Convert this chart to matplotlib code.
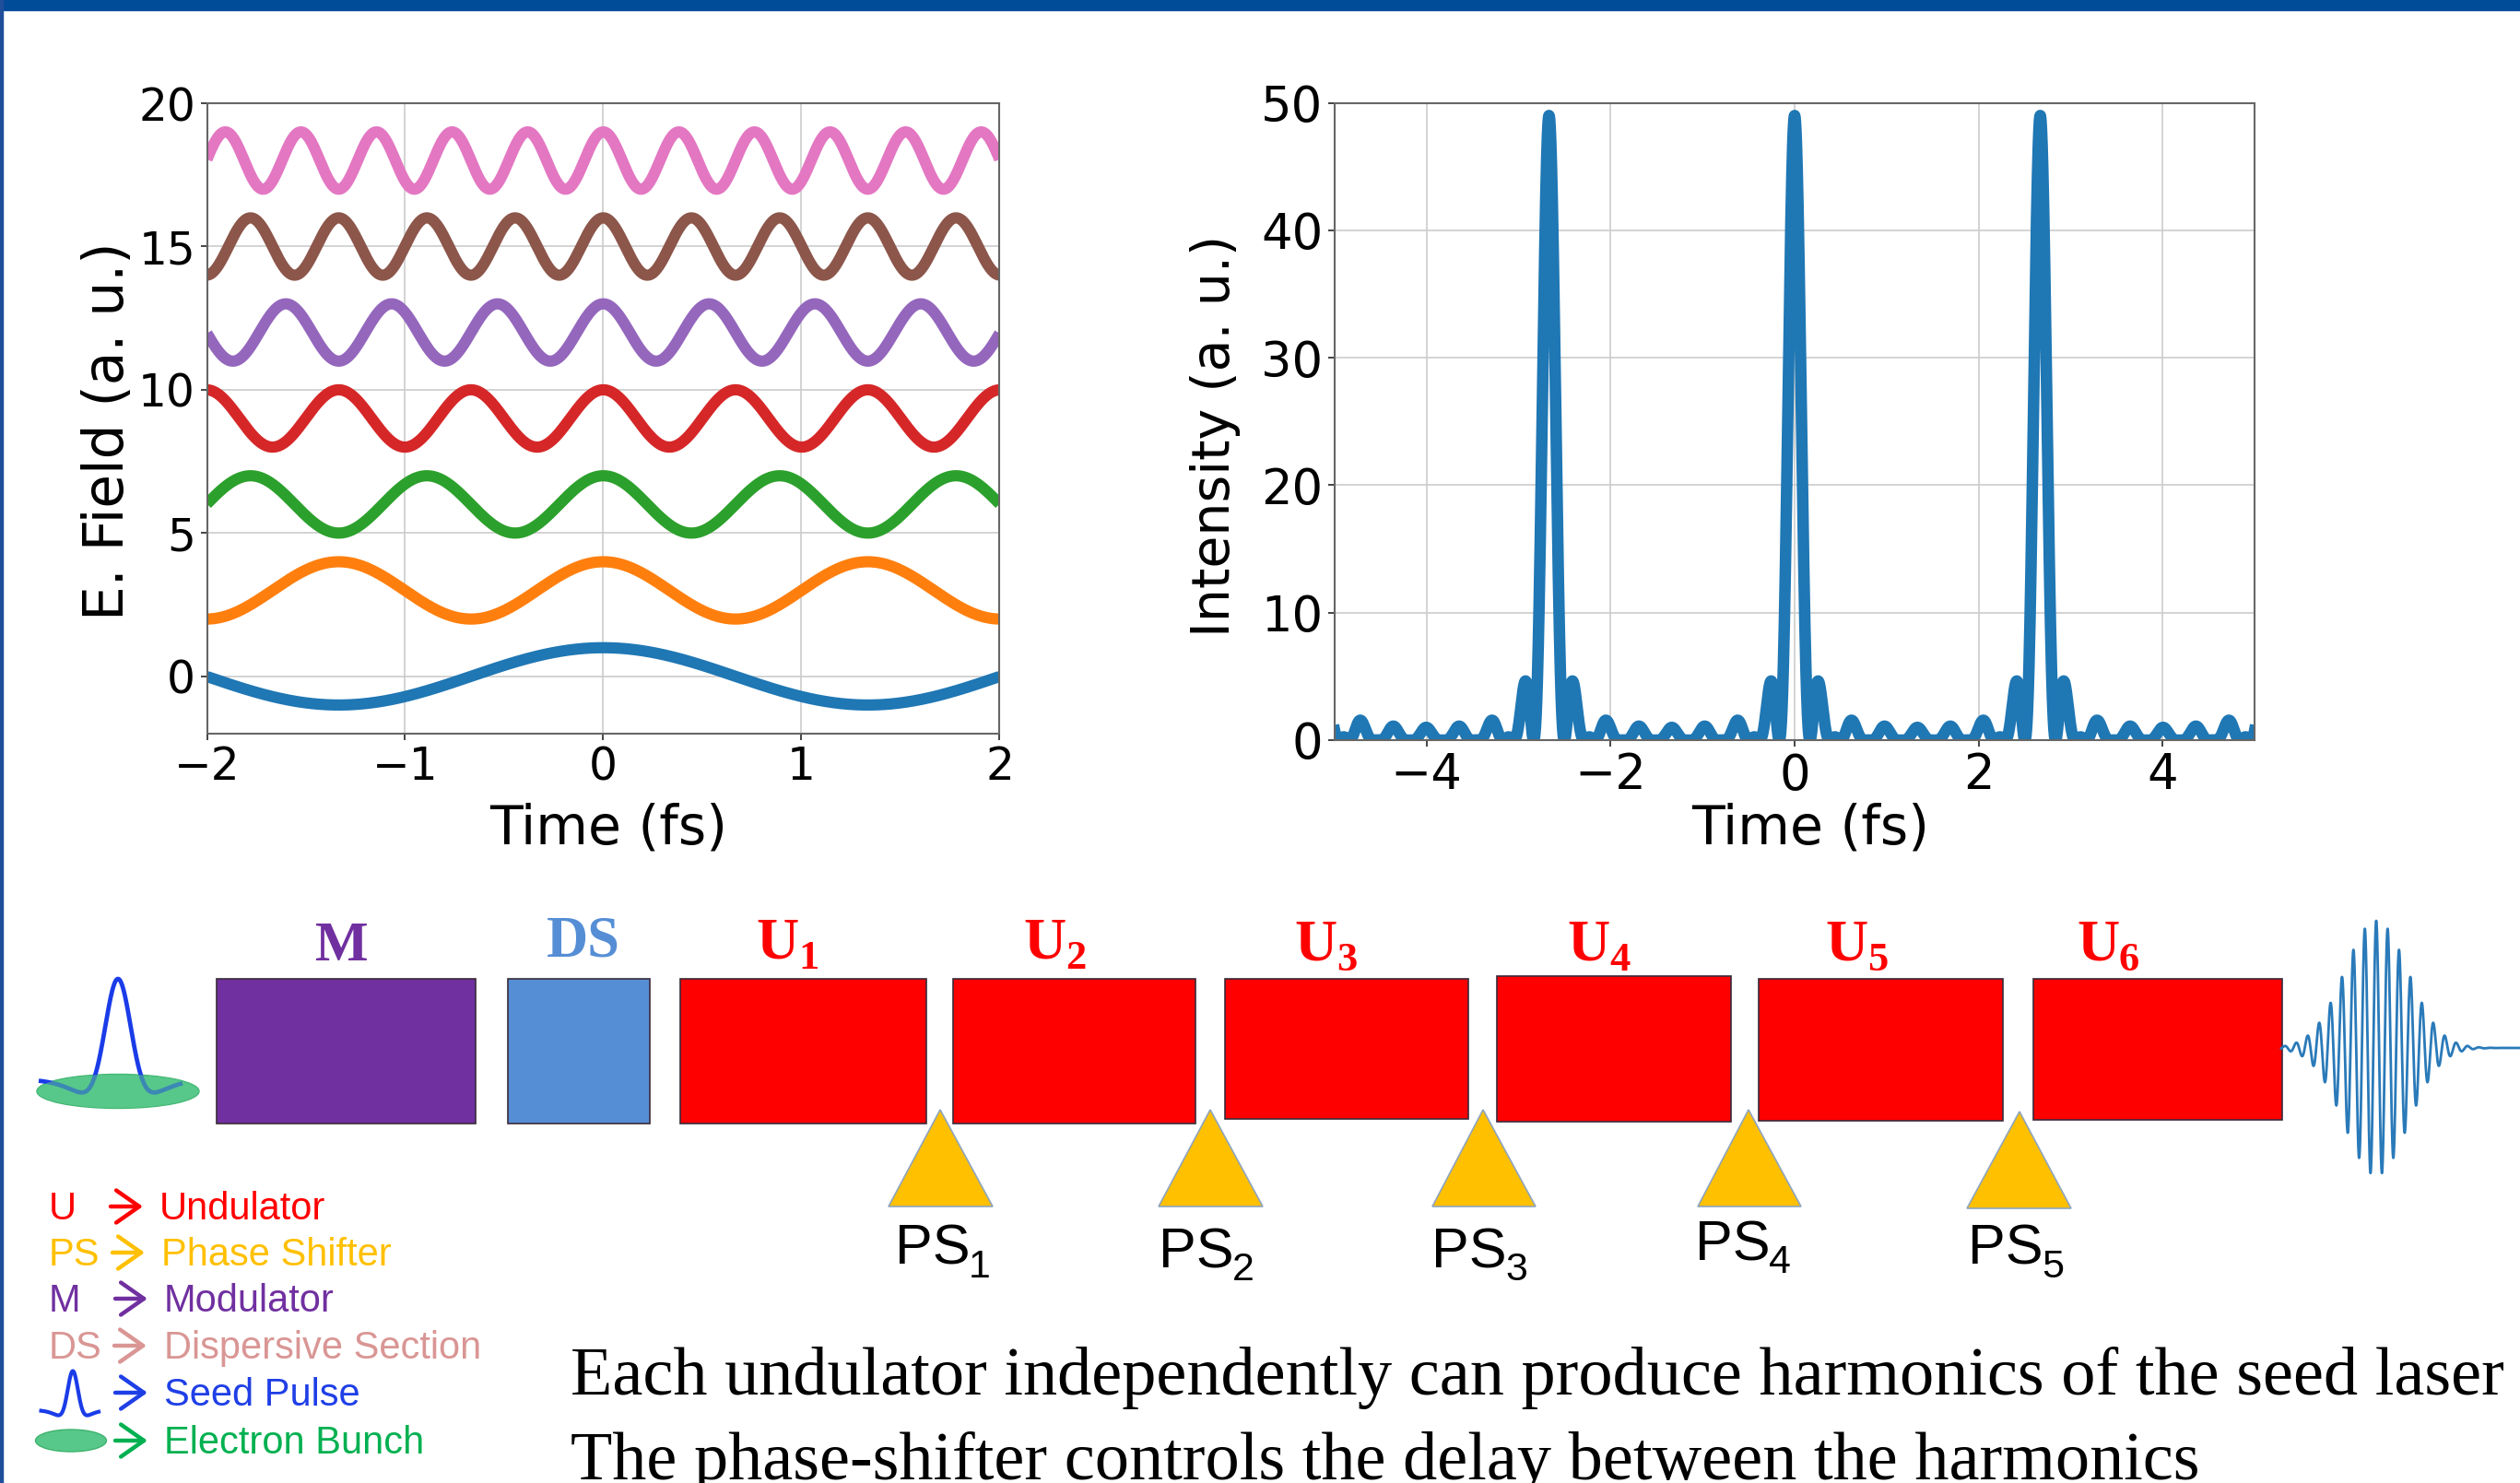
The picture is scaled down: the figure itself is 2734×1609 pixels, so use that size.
import numpy as np
import matplotlib
matplotlib.use('Agg')
import matplotlib.pyplot as plt
from matplotlib.patches import Rectangle, Polygon, Ellipse

# ---------------- data ----------------
harmonic_orders = [1, 2, 3, 4, 5, 6, 7]
field_offsets = [0, 3, 6, 9, 12, 15, 18]
field_amplitudes = [1, 1, 1, 1, 1, 1, 1]
seed_period_fs = 2.67
field_colors = ['#1f77b4', '#ff7f0e', '#2ca02c', '#d62728',
                '#9467bd', '#8c564b', '#e377c2']

field_xlim = (-2, 2)
field_ylim = (-2, 20)
field_xticks = [-2, -1, 0, 1, 2]
field_yticks = [0, 5, 10, 15, 20]
int_xlim = (-5, 5)
int_ylim = (0, 50)
int_xticks = [-4, -2, 0, 2, 4]
int_yticks = [0, 10, 20, 30, 40, 50]

undulator_subs = ['1', '2', '3', '4', '5', '6']
shifter_subs = ['1', '2', '3', '4', '5']
legend_keys = ['U', 'PS', 'M', 'DS', '', '']
legend_names = ['Undulator', 'Phase Shifter', 'Modulator',
                'Dispersive Section', 'Seed Pulse', 'Electron Bunch']
legend_colors = ['#FF0000', '#FFC000', '#7030A0', '#D99694', '#1F3FE6', '#00B050']
caption_lines = ['Each undulator independently can produce harmonics of the seed laser',
                 'The phase-shifter controls the delay between the harmonics']

# ---------------- layout (pixels) ----------------
W, H = 2734, 1609
plt.rcParams['font.family'] = ['DejaVu Sans']
fig = plt.figure(figsize=(W / 100, H / 100), dpi=100)
fig.patch.set_facecolor('white')

dax = fig.add_axes([0, 0, 1, 1])
dax.set_xlim(0, W)
dax.set_ylim(H, 0)
dax.axis('off')


def ax_rect(x0, y0, x1, y1):
    return [x0 / W, 1 - y1 / H, (x1 - x0) / W, (y1 - y0) / H]


ax1 = fig.add_axes(ax_rect(224.5, 112, 1084.5, 796))
ax2 = fig.add_axes(ax_rect(1448, 111.5, 2446, 803))

# ---------------- E-field plot ----------------
t1 = np.linspace(field_xlim[0], field_xlim[1], 3000)
for n, off, amp, col in zip(harmonic_orders, field_offsets, field_amplitudes, field_colors):
    ax1.plot(t1, off + amp * np.cos(2 * np.pi * n * t1 / seed_period_fs),
             color=col, lw=8.8, solid_capstyle='butt')
ax1.set_xlim(*field_xlim)
ax1.set_ylim(*field_ylim)
ax1.set_xticks(field_xticks)
ax1.set_yticks(field_yticks)

# ---------------- Intensity plot ----------------
t2 = np.linspace(int_xlim[0], int_xlim[1], 8000)
field_sum = np.zeros_like(t2)
for n, amp in zip(harmonic_orders, field_amplitudes):
    field_sum += amp * np.cos(2 * np.pi * n * t2 / seed_period_fs)
ax2.plot(t2, field_sum ** 2, color='#1f77b4', lw=9)
ax2.set_xlim(*int_xlim)
ax2.set_ylim(*int_ylim)
ax2.set_xticks(int_xticks)
ax2.set_yticks(int_yticks)

for ax, ls in ((ax1, 35), (ax2, 38)):
    ax.grid(True, color='#cccccc', lw=1.2)
    ax.set_axisbelow(True)
    for sp in ax.spines.values():
        sp.set_color('#666666')
        sp.set_linewidth(1.5)
    ax.tick_params(labelsize=ls, length=5, width=1.4, color='#444444', pad=4)

fig.text(118 / W, 1 - 468 / H, 'E. Field (a. u.)', rotation=90, ha='center',
         va='center', fontsize=43)
fig.text(660 / W, 1 - 916 / H, 'Time (fs)', ha='center', va='baseline', fontsize=42)
fig.text(1318 / W, 1 - 473 / H, 'Intensity (a. u.)', rotation=90, ha='center',
         va='center', fontsize=41)
fig.text(1964 / W, 1 - 916 / H, 'Time (fs)', ha='center', va='baseline', fontsize=42)

# ---------------- frame ----------------
dax.add_patch(Rectangle((0, 0), W, 11, color='#004C99', zorder=5))
dax.add_patch(Rectangle((0, 0), 3, H, color='#1F4E9A', zorder=5))

# ---------------- beamline diagram ----------------
boxes = [(235, 1062, 516, 1219, '#7030A0'),
         (551, 1062, 705, 1219, '#558ED5'),
         (738, 1062, 1005, 1219, '#FF0000'),
         (1034, 1062, 1297, 1219, '#FF0000'),
         (1329, 1062, 1593, 1214, '#FF0000'),
         (1624, 1059, 1878, 1217, '#FF0000'),
         (1908, 1062, 2173, 1216, '#FF0000'),
         (2206, 1062, 2476, 1215, '#FF0000')]
for x0, y0, x1, y1, c in boxes:
    dax.add_patch(Rectangle((x0, y0), x1 - x0, y1 - y0, facecolor=c,
                            edgecolor='#3a2a3a', lw=1.2, zorder=2))

triangles = [(1020, 1204, 964, 1077, 1309),
             (1313, 1204, 1257, 1370, 1309),
             (1609, 1204, 1554, 1666, 1309),
             (1897, 1204, 1842, 1954, 1309),
             (2191, 1206, 2134, 2247, 1311)]
for ax_, ay, bl, br, by in triangles:
    dax.add_patch(Polygon([(ax_, ay), (bl, by), (br, by)], closed=True,
                          facecolor='#FFC000', edgecolor='#8FA5BD', lw=1.2, zorder=2))

serif = ['Liberation Serif', 'DejaVu Serif']
sans = ['Liberation Sans', 'DejaVu Sans']

dax.text(342, 1042, 'M', color='#7030A0', fontsize=44, fontweight='bold',
         family=serif, ha='left', va='baseline')
dax.text(593, 1038, 'DS', color='#558ED5', fontsize=45, fontweight='bold',
         family=serif, ha='left', va='baseline')

u_pos = [(820, 1040), (1110, 1040), (1404, 1042), (1700, 1042), (1980, 1042), (2253, 1042)]
for (x, y), s in zip(u_pos, undulator_subs):
    dax.text(x, y, 'U', color='#FF0000', fontsize=46, fontweight='bold',
             family=serif, ha='left', va='baseline')
    dax.text(x + 46, y + 11, s, color='#FF0000', fontsize=32, fontweight='bold',
             family=serif, ha='left', va='baseline')

ps_pos = [(971, 1372), (1257, 1375), (1553, 1375), (1839, 1367), (2135, 1372)]
for (x, y), s in zip(ps_pos, shifter_subs):
    dax.text(x, y, 'PS', color='black', fontsize=44, family=sans,
             ha='left', va='baseline')
    dax.text(x + 80, y + 14, s, color='black', fontsize=31, family=sans,
             ha='left', va='baseline')


def pulse_shape(cx, base, sx, sy):
    u = np.linspace(-86, 70, 400)
    f = 141 * np.exp(-u ** 2 / (2 * 14 ** 2)) - 32 * np.exp(-u ** 2 / (2 * 35 ** 2))
    return cx + sx * u, base - sy * f


# seed pulse on electron bunch
bunch_green = '#58C88A'
dax.add_patch(Ellipse((128, 1184), 176, 37, facecolor=bunch_green,
                      edgecolor='#3DB36E', lw=1.0, zorder=2))
px, py = pulse_shape(128, 1171, 1.0, 1.0)
dax.plot(px, py, color='#1A3CE8', lw=3.4, zorder=3, solid_capstyle='butt')
dax.add_patch(Ellipse((128, 1184), 176, 37, facecolor=bunch_green,
                      edgecolor='none', alpha=0.55, zorder=4))

# output wave packet
wp_center, wp_base, wp_amp, wp_sigma, wp_period = 2578, 1137, 138, 34.4, 12.4
wx = np.linspace(2475, W, 3000)
wy = wp_base - wp_amp * np.exp(-(wx - wp_center) ** 2 / (2 * wp_sigma ** 2)) * \
    np.cos(2 * np.pi * (wx - wp_center) / wp_period)
dax.plot(wx, wy, color='#2a7ab9', lw=2.0, zorder=3)

# ---------------- legend ----------------
row_base = [1323, 1373, 1423, 1474, 1525, 1577]
name_left = [173, 175, 178, 178, 178, 178]
arrow_left = [120, 122, 125, 124, 125, 125]
for key, name, col, yb, xl, xa in zip(legend_keys, legend_names, legend_colors,
                                      row_base, name_left, arrow_left):
    if key:
        dax.text(53, yb, key, color=col, fontsize=30, family=sans,
                 ha='left', va='baseline')
    yc = yb - 14
    dax.annotate('', xy=(xa + 35, yc), xytext=(xa, yc),
                 arrowprops=dict(arrowstyle='->,head_length=0.6,head_width=0.42',
                                 color=col, lw=3.2, mutation_scale=30,
                                 shrinkA=0, shrinkB=0))
    dax.text(xl, yb, name, color=col, fontsize=30, family=sans,
             ha='left', va='baseline')

ix, iy = pulse_shape(79, 1530, 0.4, 0.39)
dax.plot(ix, iy, color='#1A3CE8', lw=3.0, zorder=3)
dax.add_patch(Ellipse((77, 1563), 77, 24, facecolor=bunch_green,
                      edgecolor='#3DB36E', lw=1.0, zorder=2))

# ---------------- caption ----------------
dax.text(619, 1513, caption_lines[0], color='black', fontsize=53.5, family=serif,
         ha='left', va='baseline')
dax.text(619, 1605, caption_lines[1], color='black', fontsize=53.5, family=serif,
         ha='left', va='baseline')

fig.savefig('out.png', dpi=100)
